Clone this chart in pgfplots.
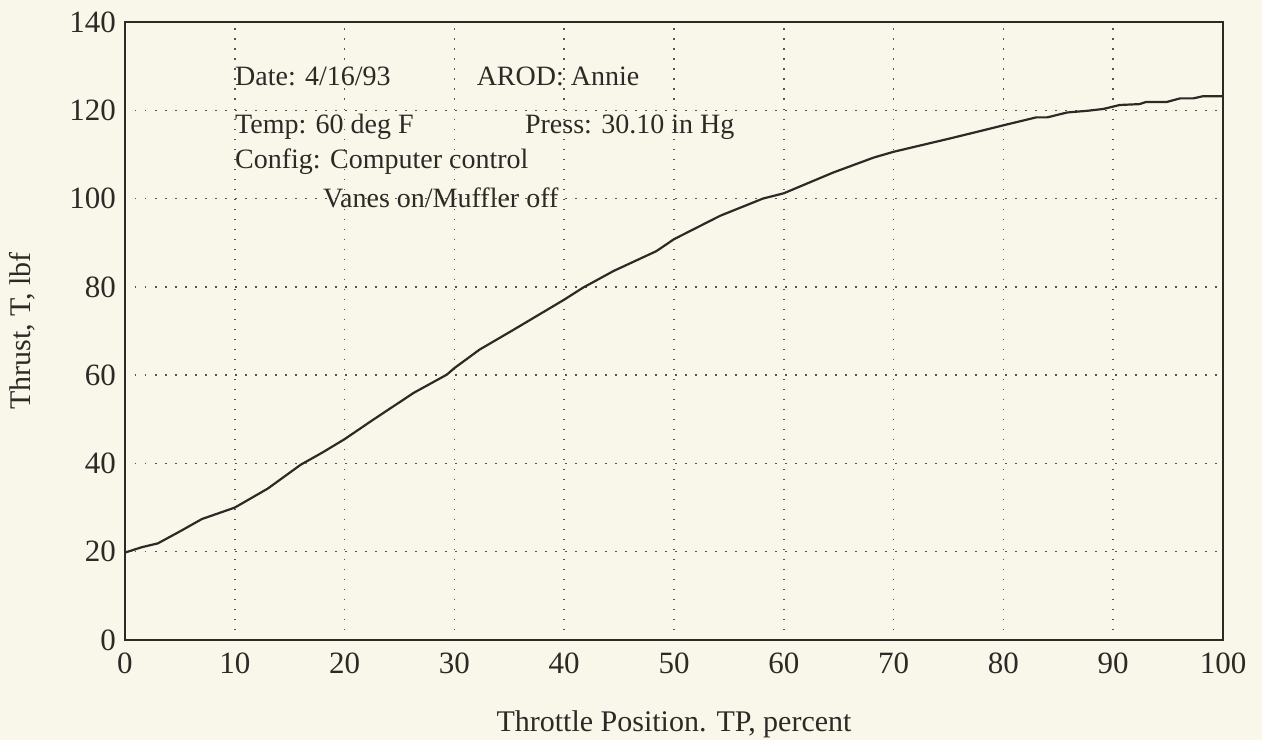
\documentclass[border=0pt]{standalone}
\usepackage{pgfplots}
\pgfplotsset{compat=1.18}
\usepackage{fontspec}
\setmainfont{Liberation Serif}
\usetikzlibrary{backgrounds,calc}
\definecolor{paper}{RGB}{248,247,234}
\definecolor{ink}{RGB}{45,42,38}
\begin{document}
\begin{tikzpicture}
\begin{axis}[
  scale only axis,
  width=549pt, height=309pt,
  xmin=0, xmax=100, ymin=0, ymax=140,
  xtick={0,10,...,100}, ytick={0,20,...,140},
  tick style={draw=none},
  grid=major,
  major grid style={draw=ink!80, line width=0.75pt, dash pattern=on 0.75pt off 4.25pt},
  axis line style={draw=ink, line width=0.8pt},
  /pgf/number format/assume math mode=true,
  ticklabel style={font=\fontsize{15.5}{18}\selectfont, text=ink},
  xticklabel style={yshift=-3pt},
  yticklabel style={xshift=-1pt},
  xlabel={Throttle Position. TP, percent},
  ylabel={Thrust, T, lbf},
  label style={font=\fontsize{15}{18}\selectfont, text=ink},
  xlabel style={at={(axis description cs:0.5,-0.136)}, anchor=center},
  ylabel style={at={(axis description cs:-0.094,0.5)}, anchor=center},
  clip=false,
]
\addplot[draw=ink, line width=1.1pt] coordinates {
(0,19.8) (1.5,21.0) (3,21.9) (5,24.6) (7,27.4) (10,30.0) (13,34.3) (16,39.7)
(18,42.5) (20,45.5) (22.6,49.9) (26.3,56.0) (29.3,60.1) (30,61.6) (32.3,65.8)
(35.4,70.3) (40,77.1) (41.7,79.8) (44.5,83.6) (48.4,88.1) (50,90.8) (54.2,96.1)
(58.1,100.0) (60,101.2) (64.5,105.9) (68.2,109.3) (70,110.6) (75.1,113.6)
(77.9,115.3) (80,116.6) (83,118.4) (84,118.4) (85.8,119.5) (87.7,119.9)
(89.1,120.3) (90.6,121.2) (92.4,121.4) (93,121.9) (94.9,121.9) (96.1,122.7)
(97.3,122.7) (98.2,123.2) (100,123.2)
};
\begin{scope}[every node/.style={anchor=base west, inner sep=0pt, font=\fontsize{14}{17}\selectfont, text=ink}]
\node at (axis cs:10,125.6) {Date: 4/16/93};
\node at (axis cs:32,125.6) {AROD: Annie};
\node at (axis cs:10,114.8) {Temp: 60 deg F};
\node at (axis cs:36.4,114.8) {Press: 30.10 in Hg};
\node at (axis cs:10,106.9) {Config: Computer control};
\node at (axis cs:18,98.0) {Vanes on/Muffler off};
\end{scope}
\end{axis}
\begin{scope}[on background layer]
\fill[paper] ($(current axis.south west)+(-62.5pt,-50pt)$) rectangle ($(current axis.north east)+(19.5pt,11pt)$);
\end{scope}
\end{tikzpicture}
\end{document}
